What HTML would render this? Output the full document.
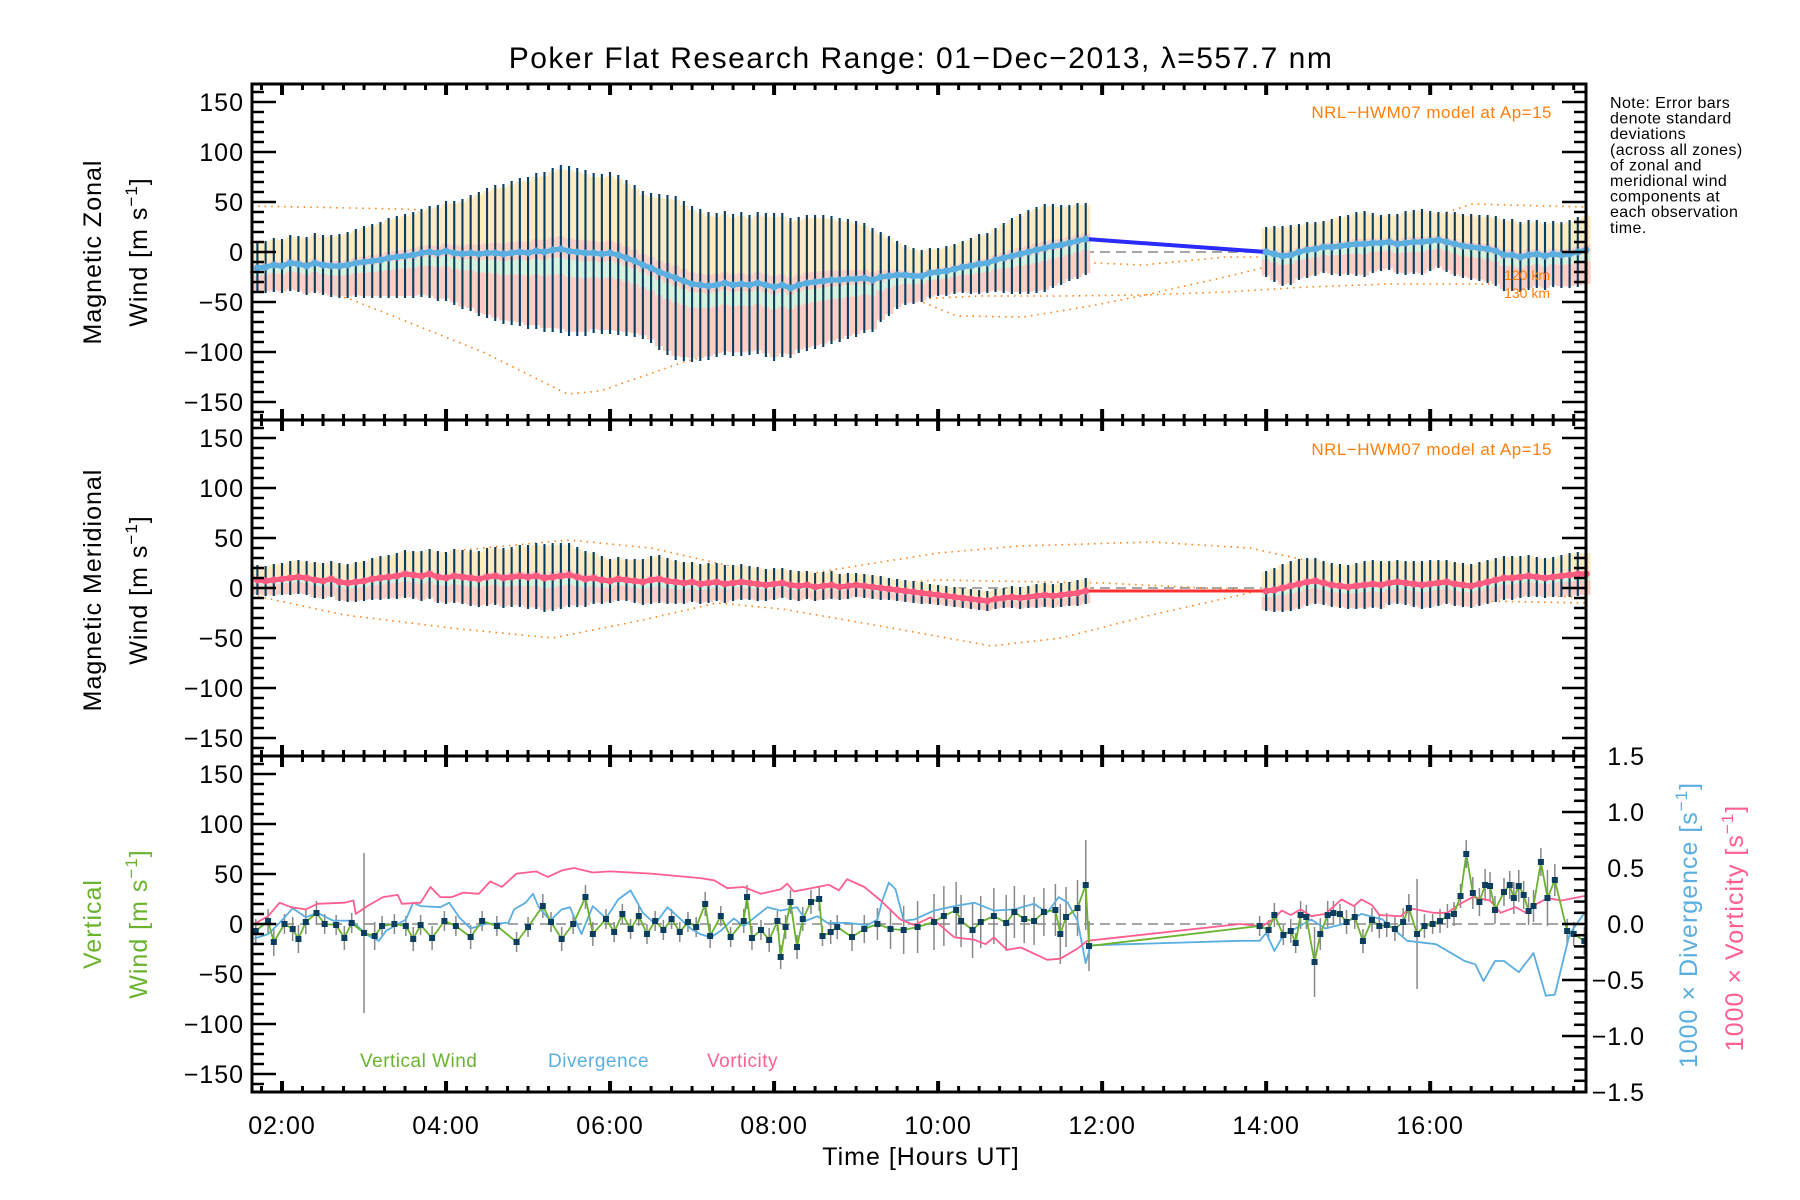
<!DOCTYPE html>
<html><head><meta charset="utf-8">
<style>
html,body{margin:0;padding:0;background:#fff;}
svg{display:block;font-family:"Liberation Sans",sans-serif;}
</style></head>
<body>
<svg id="chart" xmlns="http://www.w3.org/2000/svg" width="1800" height="1200" viewBox="0 0 1800 1200">
<rect x="0" y="0" width="1800" height="1200" fill="#fff"/>
<g id="layer-model"></g><g id="layer-swath"></g><g id="layer-bars"></g><g id="layer-lines"></g><g id="layer-axes"></g><g id="layer-text"></g>
</svg>
<script>
// ---- Zonal (panel 1), 0.1 h steps from 1.7 to 11.8
const zStart = 1.7;
const zMean = [-16,-15,-13,-14,-11,-12,-14,-11,-13,-14,-14,-13,-11,-10,-9,-8,-6,-5,-4,-3,-1,0,-1,1,-1,-2,-1,-2,-1,-1,-2,-1,0,-1,1,0,2,3,1,0,-1,-1,-2,-1,-3,-6,-9,-13,-16,-20,-23,-26,-29,-32,-33,-34,-33,-31,-33,-32,-33,-31,-33,-35,-33,-36,-33,-31,-30,-29,-28,-28,-27,-27,-26,-28,-25,-24,-23,-23,-24,-24,-21,-20,-19,-17,-15,-14,-12,-11,-8,-6,-4,-2,0,2,4,6,7,9,11,13];
const zSd = [25,26,27,27,28,28,29,30,30,31,32,33,34,36,37,38,40,41,42,43,44,46,48,50,52,55,58,62,65,68,70,72,74,76,78,80,82,84,85,84,83,80,80,81,80,78,76,74,75,78,80,82,80,78,76,74,72,72,71,72,70,71,72,74,72,70,68,68,67,66,64,62,60,58,55,52,45,40,34,30,28,26,25,24,25,25,26,28,30,30,32,35,38,40,42,43,44,42,40,38,38,36];
const z2Start = 14.0;
const z2Mean = [0,-2,-4,-3,0,2,3,5,5,6,7,8,8,9,9,10,8,9,10,10,11,12,10,8,6,5,4,3,1,-3,-3,-5,-3,-2,-4,-2,-3,-2,0,2];
const z2Sd = [25,28,30,30,28,28,27,26,28,30,30,32,33,30,28,28,30,32,32,33,30,28,30,32,32,33,33,34,35,36,36,35,35,34,34,33,33,34,35,36];
// ---- Meridional (panel 2)
const mMean = [8,7,8,9,10,11,10,8,7,9,6,5,6,7,9,10,11,12,14,13,12,14,11,10,12,11,10,9,11,12,10,11,12,11,12,10,11,12,13,11,9,10,8,7,9,8,7,6,8,9,7,6,5,6,4,5,6,4,5,6,5,4,3,4,5,3,2,3,1,2,3,1,2,3,2,1,0,-1,-2,-3,-4,-5,-6,-7,-8,-9,-10,-11,-12,-13,-11,-10,-9,-10,-9,-8,-7,-8,-7,-6,-5,-3];
const mSd = [15,15,16,16,17,17,17,18,18,18,19,19,20,20,21,22,22,23,24,24,25,25,26,26,27,27,28,28,29,29,30,30,31,32,33,34,34,33,32,30,28,26,24,22,22,21,22,23,24,24,23,22,21,20,20,20,19,19,18,18,17,17,16,16,15,15,15,14,14,14,14,13,13,12,12,12,12,11,11,11,11,11,10,10,10,10,10,10,10,10,10,10,11,11,11,12,12,12,12,12,13,13];
const m2Mean = [-3,-2,0,2,4,6,7,5,3,2,1,2,3,4,3,5,6,5,4,3,4,5,6,4,3,2,4,6,8,10,10,11,12,11,10,11,12,13,14,14];
const m2Sd = [20,22,24,25,25,24,23,22,22,22,22,23,24,24,24,22,22,22,23,24,24,23,22,22,22,22,22,22,22,22,22,21,21,20,20,20,21,22,22,22];
// ---- Model curves (NRL-HWM07)
const zModelA_t = [1.63,3.44,4.87,6.09,7.1,8.2,8.8,9.5,10.5,11.5,12.5,13.5,14.5,15.5,16.5,17.9];
const zModelA_v = [46,43,38,29,11,-17,-34,-48,-44,-44,-43,-40,-35,-32,-32,-32];
const zModelB_t = [1.61,2.5,3.5,4.5,5.5,6.5,7.0,8.2,9.0,9.6,10.6,11.9,12.5,13.5,14.5,15.5,16.5,17.9];
const zModelB_v = [9,3,-10,-25,-45,-65,-69,-64,-47,-30,-19,-11,-13,-5,-5,-10,-18,-20];
const zModelC_t = [1.61,2.83,4.45,5.48,5.88,6.9,8.2,9.01,9.62,10.23,11.04,11.86,12.47,13.5,14.5,15.5,16.5,17.9];
const zModelC_v = [-20,-47,-100,-142,-139,-110,-80,-47,-44,-64,-65,-54,-44,-25,-5,20,48,45];
const mModelA_t = [1.63,2.76,4.17,5.3,6.4,7.3,8.1,9.5,10.65,11.5,12.6,13.9,15.4,16.8,17.9];
const mModelA_v = [-7,-27,-41,-50,-32,-15,-21,-41,-58,-50,-27,-3,14,14,8];
const mModelB_t = [1.63,2.8,4.2,5.5,6.5,7.3,8.1,9.0,10.0,11.0,12.6,13.8,14.8,15.8,17.0,17.9];
const mModelB_v = [5,20,38,48,40,25,10,22,35,42,46,40,22,8,-5,-10];
const mModelC_t = [1.63,4.0,6.0,8.0,10.0,12.0,14.0,16.0,17.9];
const mModelC_v = [0,5,0,-3,8,5,-3,-12,-15];
// ---- Vertical wind (panel 3)
const wT = [1.68,1.83,1.9,2.03,2.13,2.2,2.29,2.42,2.52,2.66,2.76,2.85,3.0,3.13,3.22,3.37,3.51,3.6,3.69,3.83,3.98,4.12,4.3,4.44,4.62,4.86,5.0,5.18,5.28,5.41,5.55,5.7,5.79,5.95,6.05,6.15,6.25,6.35,6.45,6.55,6.65,6.75,6.85,6.95,7.05,7.16,7.22,7.35,7.47,7.63,7.67,7.73,7.84,7.94,8.04,8.08,8.14,8.2,8.28,8.35,8.45,8.55,8.59,8.69,8.77,8.95,9.1,9.26,9.42,9.58,9.75,9.95,10.07,10.22,10.28,10.42,10.52,10.68,10.83,10.93,11.05,11.17,11.29,11.43,11.49,11.56,11.7,11.8,11.84,13.92,14.03,14.1,14.21,14.3,14.36,14.42,14.49,14.59,14.66,14.75,14.82,14.9,14.98,15.08,15.18,15.29,15.38,15.47,15.57,15.67,15.74,15.84,15.93,16.03,16.12,16.21,16.29,16.37,16.44,16.52,16.6,16.67,16.73,16.79,16.9,16.97,17.02,17.08,17.14,17.2,17.26,17.35,17.43,17.52,17.67,17.75,17.88];
const wV = [-7,3,-18,0,-5,-15,2,11,0,-1,-14,1,-9,-12,-2,0,-2,-15,-1,-14,3,-2,-13,3,-2,-18,-3,18,2,-15,0,27,-10,5,-8,10,-5,8,-10,3,-6,5,-8,2,-3,20,-12,8,-13,3,27,-14,-6,-16,3,-33,-3,22,-23,5,22,25,-12,-8,-3,-13,-5,0,-5,-6,-3,2,8,14,3,-6,2,8,1,12,5,3,12,14,-10,7,16,39,-22,-2,-6,9,-11,-7,-19,9,7,-38,-10,9,11,10,2,7,-17,4,-2,-1,-5,2,16,-10,-2,0,3,8,10,28,70,31,22,39,38,14,32,39,26,38,29,13,18,62,26,44,-7,-10,-17];
const wErr = [12,12,14,10,12,14,12,12,10,10,12,10,80,14,10,10,10,12,10,12,10,10,12,10,10,10,10,12,10,12,10,12,12,10,10,10,10,10,10,10,10,10,10,10,10,12,12,10,10,12,12,12,10,12,10,12,12,12,12,12,12,12,10,12,12,14,14,16,20,24,26,28,30,28,26,28,26,28,28,26,24,24,24,26,30,30,28,45,25,10,10,12,10,12,10,14,12,35,16,14,12,10,12,12,12,12,12,12,12,14,14,55,12,10,12,12,12,12,14,16,14,16,14,14,14,14,16,16,14,14,16,14,28,16,12,12,14];
// ---- Divergence (right axis, x1000 s^-1)
const dT = [1.66,1.83,1.97,2.13,2.29,2.43,2.62,2.85,3.04,3.18,3.27,3.51,3.6,3.69,3.93,4.04,4.16,4.3,4.48,4.76,4.83,4.97,5.06,5.13,5.27,5.41,5.51,5.65,5.79,5.95,6.1,6.25,6.4,6.55,6.7,6.85,7.0,7.1,7.23,7.35,7.51,7.63,7.92,8.08,8.28,8.39,8.53,8.65,8.89,9.14,9.26,9.32,9.4,9.48,9.58,9.71,9.95,10.2,10.44,10.68,10.93,11.17,11.33,11.47,11.58,11.7,11.8,11.86,13.68,13.92,14.0,14.1,14.21,14.38,14.55,14.72,14.94,15.16,15.42,15.72,16.07,16.28,16.42,16.55,16.65,16.79,16.9,17.08,17.26,17.41,17.52,17.7,17.88];
const dV = [-0.13,-0.09,0.01,0.14,0.06,0.1,0.03,0.03,-0.1,-0.15,-0.06,0.04,0.19,0.16,0.15,0.19,0.06,-0.04,0,0.01,0.13,0.19,0.27,0.15,0.03,0.13,0.15,-0.09,0.16,0.05,0.22,0.3,0.1,0.0,0.15,0.05,-0.05,-0.09,-0.12,-0.06,0.05,-0.02,0.15,0.12,0.15,0.03,0.07,0.01,0.01,-0.01,0.04,0.21,0.37,0.31,0.03,0.04,0.12,0.16,0.19,0.12,0.13,0.18,0.1,0.24,0.19,0.03,-0.35,-0.19,-0.15,-0.15,-0.08,-0.24,-0.1,-0.03,0.04,-0.04,0,0.09,0.04,-0.15,-0.18,-0.27,-0.33,-0.36,-0.51,-0.33,-0.33,-0.43,-0.26,-0.64,-0.63,-0.09,0.1];
// ---- Vorticity (right axis, x1000 s^-1)
const vT = [1.66,1.83,1.97,2.11,2.29,2.43,2.76,2.87,2.9,3.04,3.23,3.41,3.46,3.69,3.81,3.93,4.07,4.21,4.4,4.54,4.68,4.86,5.1,5.24,5.42,5.56,5.79,6.0,6.5,7.1,7.27,7.43,7.63,7.84,8.08,8.16,8.24,8.45,8.67,8.79,8.89,9.1,9.3,9.54,9.71,9.91,10.2,10.44,10.58,10.68,10.84,11.01,11.33,11.49,11.7,11.82,13.68,13.95,14.08,14.19,14.3,14.42,14.55,14.72,14.92,15.07,15.16,15.29,15.38,15.64,15.75,16.04,16.21,16.34,16.52,16.73,16.86,17.04,17.17,17.3,17.43,17.6,17.88];
const vV = [0,0.07,0.19,0.15,0.13,0.18,0.19,0.21,0.09,0.16,0.24,0.26,0.18,0.19,0.33,0.24,0.24,0.28,0.27,0.38,0.33,0.45,0.47,0.42,0.48,0.5,0.46,0.47,0.45,0.41,0.39,0.32,0.33,0.27,0.31,0.36,0.29,0.32,0.35,0.3,0.4,0.33,0.21,0.04,-0.01,0.06,-0.12,-0.14,-0.18,-0.12,-0.23,-0.21,-0.32,-0.31,-0.22,-0.15,0,-0.02,0.04,0.12,0.08,0.13,0.07,0.09,0.22,0.16,0.22,0.17,0.08,0.07,0.14,0.1,0.1,0.17,0.24,0.21,0.1,0.15,0.1,0.18,0.23,0.21,0.25];
// ---- Axis tick labels
const yTickVals = [150,100,50,0,-50,-100,-150];
const yTickLabels = ["150","100","50","0","\u221250","\u2212100","\u2212150"];
const rTickVals = [1.5,1.0,0.5,0.0,-0.5,-1.0,-1.5];
const rTickLabels = ["1.5","1.0","0.5","0.0","\u22120.5","\u22121.0","\u22121.5"];
const xTickHours = [2,4,6,8,10,12,14,16];
const xTickLabels = ["02:00","04:00","06:00","08:00","10:00","12:00","14:00","16:00"];

const NS = "http://www.w3.org/2000/svg";
const X0 = 252, X1 = 1586, T0 = 1.634, T1 = 17.9;
const TOPS = [84, 420, 756], PH = 336;
function xs(t){ return X0 + (t - T0) / (T1 - T0) * (X1 - X0); }
function ys(p, v){ return TOPS[p] + PH/2 - v * (PH/336); }
function yr(v){ return TOPS[2] + PH/2 - v * 112; }
function mk(tag, attrs, parent){
  const el = document.createElementNS(NS, tag);
  for (const k in attrs) el.setAttribute(k, attrs[k]);
  parent.appendChild(el);
  return el;
}
const Lmodel = document.getElementById('layer-model');
const Lswath = document.getElementById('layer-swath');
const Lbars = document.getElementById('layer-bars');
const Llines = document.getElementById('layer-lines');
const Laxes = document.getElementById('layer-axes');
const Ltext = document.getElementById('layer-text');

function polyline(pts, stroke, sw, parent, name, dash){
  const el = mk('polyline', {points: pts.map(p => p[0].toFixed(1)+','+p[1].toFixed(1)).join(' '), fill:'none', stroke:stroke, 'stroke-width':sw, 'stroke-linejoin':'round'}, parent);
  if (dash) el.setAttribute('stroke-dasharray', dash);
  
  
  return el;
}

for (let p = 0; p < 3; p++) {
  const zl = mk('line', {x1:X0, x2:X1, y1:ys(p,0), y2:ys(p,0), stroke:'#888', 'stroke-width':1.5, 'stroke-dasharray':'10,6'}, Lmodel);
  
  
}

function modelCurve(p, ts, vs, name){
  polyline(ts.map((t,i)=>[xs(t), ys(p, vs[i])]), '#ff7f0e', 1.6, Lmodel, name, '1.5,5');
}
modelCurve(0, zModelA_t, zModelA_v, 'zonal-model-curve-a');
modelCurve(0, zModelB_t, zModelB_v, 'zonal-model-curve-b');
modelCurve(0, zModelC_t, zModelC_v, 'zonal-model-curve-c');
modelCurve(1, mModelA_t, mModelA_v, 'meridional-model-curve-a');
modelCurve(1, mModelB_t, mModelB_v, 'meridional-model-curve-b');
modelCurve(1, mModelC_t, mModelC_v, 'meridional-model-curve-c');

function windPanel(p, start, means, sds, kind){
  const pts = [];
  means.forEach((m, i) => {
    const t = start + 0.1 * i;
    const x = xs(t);
    const sd = sds[i];
    const sy = mk('rect', {x:x-4.5, y:ys(p, m+sd*0.95), width:9, height:(sd*0.95+sd*0.25), fill:'#fcebc4'}, Lswath);
    
    
    const sp = mk('rect', {x:x-4.5, y:ys(p, m+sd*0.15), width:9, height:(sd*0.15+sd*0.95), fill:'#fbcfc6'}, Lswath);
    
    
    const sg = mk('rect', {x:x-4.5, y:ys(p, m-sd*0.1), width:9, height:sd*0.2, fill:'#d6f3e0'}, Lswath);
    
    
    const b = mk('line', {x1:x, x2:x, y1:ys(p, m+sd), y2:ys(p, m-sd), stroke:'#0b3d5e', 'stroke-width':2.1}, Lbars);
    
    
    pts.push([x, ys(p, m)]);
  });
  return pts;
}
const z1 = windPanel(0, zStart, zMean, zSd, 'zonal');
const z2 = windPanel(0, z2Start, z2Mean, z2Sd, 'zonal');
const m1 = windPanel(1, zStart, mMean, mSd, 'meridional');
const m2 = windPanel(1, z2Start, m2Mean, m2Sd, 'meridional');
polyline([z1[z1.length-1], z2[0]], '#2a2aff', 4, Llines, 'zonal-gap-line');
polyline([m1[m1.length-1], m2[0]], '#ff3030', 3, Llines, 'meridional-gap-line');
polyline(z1, '#5aaee0', 5, Llines, 'zonal-mean-line');
polyline(z2, '#5aaee0', 5, Llines, 'zonal-mean-line');
polyline(m1, '#ff5a80', 5, Llines, 'meridional-mean-line');
polyline(m2, '#ff5a80', 5, Llines, 'meridional-mean-line');
z1.concat(z2).forEach(pt => {
  const c = mk('circle', {cx:pt[0], cy:pt[1], r:3.5, fill:'#5aaee0'}, Llines);
  
  
});
m1.concat(m2).forEach(pt => {
  const c = mk('circle', {cx:pt[0], cy:pt[1], r:3.5, fill:'#ff5a80'}, Llines);
  
  
});

wT.forEach((t, i) => {
  const x = xs(t);
  const e = mk('line', {x1:x, x2:x, y1:ys(2, wV[i]+wErr[i]), y2:ys(2, wV[i]-wErr[i]), stroke:'#888', 'stroke-width':1.5}, Lbars);
  
  
});
polyline(dT.map((t,i)=>[xs(t), yr(dV[i])]), '#5aaee0', 1.8, Llines, 'divergence-line');
polyline(vT.map((t,i)=>[xs(t), yr(vV[i])]), '#ff5f8f', 1.8, Llines, 'vorticity-line');
polyline(wT.map((t,i)=>[xs(t), ys(2, wV[i])]), '#6ab32e', 1.8, Llines, 'vertical-wind-line');
wT.forEach((t, i) => {
  const s = mk('rect', {x:xs(t)-3, y:ys(2, wV[i])-3, width:6, height:6, fill:'#0b3d5e'}, Llines);
  
  
});

function tline(x1,y1,x2,y2,w,name){
  const l = mk('line', {x1:x1,y1:y1,x2:x2,y2:y2,stroke:'#000','stroke-width':w}, Laxes);
  
  
}
function txt(x, y, s, size, anchor, color, name, rot, ls){
  const t = mk('text', {x:x, y:y, 'font-size':size, 'text-anchor':anchor, fill:color}, Ltext);
  if (rot) t.setAttribute('transform', 'rotate(-90 '+x+' '+y+')');
  if (ls) t.setAttribute('letter-spacing', ls);
  t.textContent = s;
  
  
  return t;
}
for (let p = 0; p < 3; p++) {
  const top = TOPS[p], bot = top + PH;
  const fr = mk('rect', {x:X0, y:top, width:X1-X0, height:PH, fill:'none', stroke:'#000', 'stroke-width':3}, Laxes);
  
  
  for (let v = -160; v <= 160; v += 10) {
    const major = v % 50 === 0;
    const L = major ? 24 : 12;
    const y = ys(p, v);
    tline(X0, y, X0+L, y, 2.5, 'y-tick');
    if (p < 2) tline(X1, y, X1-L, y, 2.5, 'y-tick-right');
  }
  yTickVals.forEach((v, i) => txt(244, ys(p, v)+9, yTickLabels[i], 25, 'end', '#000', 'y-tick-label', false, 1));
  for (let m = 105; m <= 1070; m += 15) {
    const t = m / 60;
    if (t < T0 || t > T1) continue;
    const major = m % 120 === 0;
    const L = major ? 11 : 6;
    const x = xs(t);
    tline(x, top, x, top+L, major ? 4 : 3, 'x-tick');
    tline(x, bot, x, bot-L, major ? 4 : 3, 'x-tick');
  }
}
for (let v = -1.5; v <= 1.501; v += 0.1) {
  const r = Math.round(v*10);
  const major = r % 5 === 0;
  const y = yr(v);
  tline(X1, y, X1-(major?24:12), y, 2.5, 'right-y-tick');
}
rTickVals.forEach((v, i) => txt(1645, yr(v)+9, rTickLabels[i], 25, 'end', '#000', 'right-y-tick-label', false, 1));
xTickHours.forEach((h, i) => txt(xs(h), 1134, xTickLabels[i], 25, 'middle', '#000', 'x-tick-label', false, 1));

txt(921, 68, 'Poker Flat Research Range: 01\u2212Dec\u22122013, \u03bb=557.7 nm', 30, 'middle', '#000', 'chart-title', false, 1.5);
txt(921, 1165, 'Time [Hours UT]', 25, 'middle', '#000', 'x-axis-title', false, 1);
function windTitle(x, cy, color){
  const t = mk('text', {x:x, y:cy, 'font-size':25, 'text-anchor':'middle', fill:color, 'letter-spacing':1, transform:'rotate(-90 '+x+' '+cy+')'}, Ltext);
  
  
  const a = mk('tspan', {}, t); a.textContent = 'Wind [m s';
  const b = mk('tspan', {dy:-10, 'font-size':17}, t); b.textContent = '\u22121';
  const c = mk('tspan', {dy:10}, t); c.textContent = ']';
}
txt(101, 252, 'Magnetic Zonal', 25, 'middle', '#000', 'zonal-y-axis-title', true, 1);
windTitle(147, 252, '#000');
txt(101, 590, 'Magnetic Meridional', 25, 'middle', '#000', 'meridional-y-axis-title', true, 1);
windTitle(147, 590, '#000');
txt(101, 924, 'Vertical', 25, 'middle', '#6ab32e', 'vertical-y-axis-title', true, 1);
windTitle(147, 924, '#6ab32e');
function rightTitle(x, cy, pre, color, name){
  const t = mk('text', {x:x, y:cy, 'font-size':25, 'text-anchor':'middle', fill:color, 'letter-spacing':1, transform:'rotate(-90 '+x+' '+cy+')'}, Ltext);
  
  
  const a = mk('tspan', {}, t); a.textContent = pre + ' [s';
  const b = mk('tspan', {dy:-10, 'font-size':17}, t); b.textContent = '\u22121';
  const c = mk('tspan', {dy:10}, t); c.textContent = ']';
}
rightTitle(1697, 925, '1000 \u00d7 Divergence', '#5aaee0', 'divergence-axis-title');
rightTitle(1743, 928, '1000 \u00d7 Vorticity', '#ff5f8f', 'vorticity-axis-title');

txt(1552, 118, 'NRL\u2212HWM07 model at Ap=15', 17, 'end', '#ff7f0e', 'model-label-zonal', false, 0.5);
txt(1552, 455, 'NRL\u2212HWM07 model at Ap=15', 17, 'end', '#ff7f0e', 'model-label-meridional', false, 0.5);
txt(1550, 280, '120 km', 14, 'end', '#ff7f0e', 'altitude-label-120');
txt(1550, 298, '130 km', 14, 'end', '#ff7f0e', 'altitude-label-130');
txt(360, 1067, 'Vertical Wind', 19, 'start', '#6ab32e', 'legend-vertical-wind', false, 0.5);
txt(548, 1067, 'Divergence', 19, 'start', '#5aaee0', 'legend-divergence', false, 0.5);
txt(707, 1067, 'Vorticity', 19, 'start', '#ff5f8f', 'legend-vorticity', false, 0.5);

const noteLines = ['Note: Error bars','denote standard','deviations','(across all zones)','of zonal and','meridional wind','components at','each observation','time.'];
noteLines.forEach((s, i) => txt(1610, 108 + i*15.6, s, 16, 'start', '#000', 'note-text-line', false, 0.4));
</script>
</body></html>
